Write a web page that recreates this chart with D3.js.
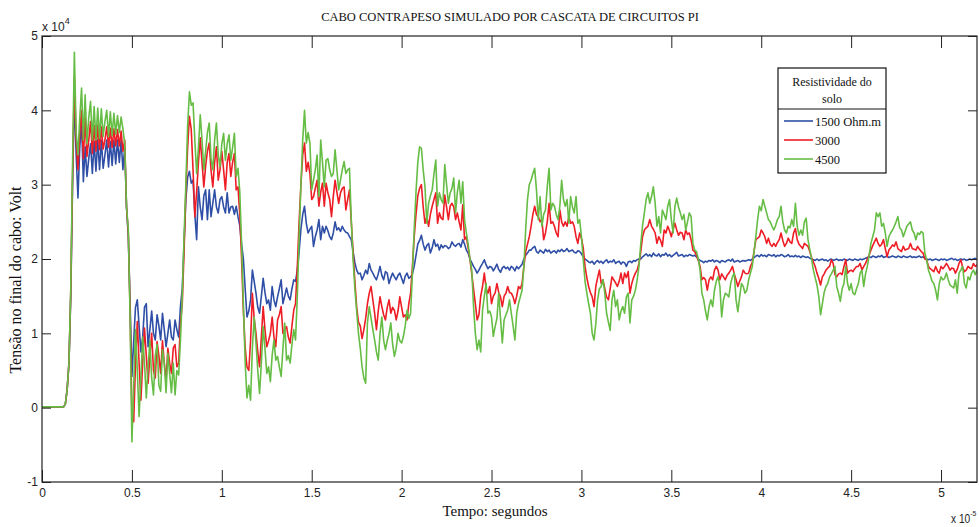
<!DOCTYPE html>
<html>
<head>
<meta charset="utf-8">
<script src="https://cdn.jsdelivr.net/npm/d3@7/dist/d3.min.js"></script>
<style>
  html, body { margin: 0; padding: 0; background: #fff; }
  svg { display: block; }
</style>
</head>
<body>
<svg id="chart" width="979" height="527"></svg>
<script>
// Amostragem uniforme: passo em unidades de 1e-5 s; tensões em unidades de 1e4 V
const passo = 0.01;
const xTicks = [0, 0.5, 1, 1.5, 2, 2.5, 3, 3.5, 4, 4.5, 5];
const yTicks = [-1, 0, 1, 2, 3, 4, 5];
const resistividades = ["1500 Ohm.m", "3000", "4500"];
const cores = ["#2f4fa6", "#ee1d25", "#66bd45"];

// Tensão no final do cabo, resistividade 1500 Ohm.m
const v1500 = [
  0.01,0.01,0.01,0.01,0.01,0.01,0.01,0.01,0.01,0.01,0.01,0.01,0.01,
  0.05,0.25,0.6,1.5,3.0,
  4.2,3.4,2.82,3.5,3.83,3.04,3.51,3.11,3.35,3.55,3.15,3.58,3.18,3.6,3.2,3.6,3.22,3.4,3.6,3.24,3.58,3.26,3.6,3.28,3.6,3.3,3.6,3.2,3.5,
  2.7,2.3,1.4,
  0.42,0.9,1.35,1.45,1.1,0.75,0.95,1.35,1.4,0.82,1.05,1.3,1.0,0.91,1.25,1.1,0.91,1.27,1.05,0.82,1.0,1.18,0.95,0.91,1.18,1.05,0.95,1.36,
  1.6,2.2,2.8,3.1,
  3.18,3.02,3.06,2.6,2.26,2.97,2.7,2.53,2.85,2.93,2.53,2.93,2.57,2.75,2.93,2.7,2.62,2.8,2.84,2.7,2.62,2.89,2.62,2.7,2.71,2.6,2.71,2.57,
  2.45,2.2,2.0,1.6,
  1.22,1.3,1.45,1.85,1.7,1.54,1.35,1.27,1.5,1.74,1.55,1.4,1.45,1.31,1.63,1.45,1.36,1.49,1.6,1.72,1.4,1.5,1.61,1.5,1.45,1.6,1.72,1.7,
  1.85,2.1,2.4,2.6,
  2.71,2.48,2.35,2.4,2.44,2.17,2.3,2.39,2.53,2.26,2.44,2.35,2.44,2.38,2.3,2.26,2.35,2.5,2.39,2.42,2.37,2.44,2.39,2.36,2.35,2.3,2.26,
  2.1,1.95,1.85,1.8,1.81,
  1.72,1.78,1.85,1.8,1.94,1.85,1.81,1.76,1.72,1.8,1.9,1.78,1.72,1.83,1.81,1.67,1.75,1.81,1.76,1.72,1.78,1.81,1.74,1.67,1.77,1.81,1.74,1.76,
  1.8,1.9,2.05,2.2,2.25,
  2.32,2.2,2.12,2.18,2.21,2.08,2.15,2.26,2.17,2.2,2.12,2.19,2.15,2.18,2.17,2.14,2.16,2.23,2.19,2.17,2.2,2.21,2.16,2.26,2.2,2.12,2.08,2.0,
  1.95,1.9,1.86,1.81,1.85,1.9,1.94,1.99,1.92,1.87,1.9,1.89,1.84,1.88,1.93,1.86,1.82,1.88,1.9,1.87,1.89,1.85,1.9,1.88,1.84,1.9,1.87,1.9,1.93,
  2.0,2.05,2.08,2.12,
  2.12,2.15,2.17,2.1,2.08,2.12,2.1,2.08,2.13,2.1,2.12,2.08,2.1,2.11,2.08,2.12,2.1,2.13,2.1,2.11,2.14,2.1,2.11,2.12,2.09,2.08,2.11,2.1,2.07,2.03,2.0,
  1.98,1.96,1.95,1.97,1.93,1.96,1.98,1.95,1.97,1.94,1.97,1.99,1.95,1.97,1.96,1.99,1.94,1.96,1.97,1.93,1.96,1.95,1.9,1.96,1.97,1.95,1.98,1.97,1.99,2.0,
  2.0,2.03,2.05,2.07,2.04,2.06,2.03,2.08,2.05,2.04,2.07,2.03,2.06,2.05,2.08,2.04,2.06,2.03,2.05,2.07,2.09,2.04,2.05,2.06,2.03,2.05,2.04,2.06,2.05,2.04,2.05,
  2.03,2.0,1.98,1.97,1.95,1.97,1.96,1.98,1.97,1.99,1.96,1.98,1.97,1.95,1.98,1.97,1.96,1.98,1.99,1.97,2.0,1.96,1.97,1.98,1.96,1.97,1.98,1.97,1.98,1.99,1.98,2.0,
  2.02,2.04,2.05,2.03,2.06,2.04,2.05,2.03,2.06,2.05,2.04,2.06,2.03,2.05,2.04,2.06,2.05,2.03,2.04,2.06,2.03,2.04,2.03,2.05,2.03,2.04,2.02,2.04,2.03,2.02,2.03,2.01,
  2.0,1.99,1.98,2.0,1.98,1.99,2.0,1.98,1.99,1.97,1.99,2.0,1.98,1.99,2.0,1.98,1.99,1.98,2.0,1.99,1.98,2.0,1.99,1.98,2.0,1.99,1.98,2.0,1.99,2.0,2.01,2.02,
  2.03,2.02,2.04,2.03,2.02,2.04,2.03,2.05,2.02,2.03,2.04,2.02,2.03,2.04,2.03,2.02,2.04,2.03,2.02,2.04,2.03,2.02,2.03,2.04,2.02,2.03,2.02,2.03,2.04,2.02,2.03,2.01,
  2.0,1.99,2.0,1.98,1.99,2.0,1.99,1.98,2.0,1.99,2.0,1.98,1.99,2.0,2.01,1.99,2.0,1.98,1.99,2.0,1.99,2.0,1.98,1.99,2.0,1.99,2.0,2.01,1.99
];

// Tensão no final do cabo, resistividade 3000 Ohm.m
const v3000 = [
  0.01,0.01,0.01,0.01,0.01,0.01,0.01,0.01,0.01,0.01,0.01,0.01,0.01,
  0.05,0.25,0.6,1.55,3.1,
  4.45,3.6,3.2,3.7,4.0,3.35,3.9,3.38,3.6,3.85,3.42,3.8,3.45,3.8,3.47,3.78,3.48,3.6,3.78,3.5,3.76,3.5,3.75,3.52,3.74,3.52,3.72,3.45,3.6,
  2.7,2.35,1.3,
  -0.1,-0.19,0.6,1.16,0.6,0.1,0.6,1.07,0.7,0.33,0.7,1.0,0.5,0.4,0.89,0.7,0.46,0.9,0.6,0.37,0.8,0.6,0.46,0.8,0.85,0.55,0.6,1.13,
  1.4,2.1,2.9,3.5,
  3.92,3.74,3.2,2.57,2.9,3.3,3.63,3.3,2.97,3.25,3.45,3.56,3.2,2.97,3.3,3.51,3.06,3.2,3.45,3.2,2.93,3.3,3.42,3.11,3.3,3.42,2.93,2.97,
  2.6,2.0,1.3,0.8,
  0.55,0.5,0.9,1.54,1.2,1.0,0.75,0.55,0.95,1.36,1.05,0.82,0.9,1.0,1.22,0.95,0.82,1.18,1.25,1.36,1.0,1.05,1.09,0.95,0.87,1.1,1.31,1.4,
  1.9,2.5,3.0,3.4,
  3.56,3.18,3.3,3.15,2.8,2.84,2.95,3.06,2.71,2.9,3.02,2.71,3.02,2.89,2.8,2.57,2.84,3.06,2.9,2.75,2.89,2.95,2.97,2.66,2.8,2.93,2.5,
  2.1,1.7,1.35,1.15,1.1,
  0.93,1.05,1.2,1.4,1.54,1.63,1.45,1.27,1.05,1.3,1.49,1.36,1.25,1.18,1.35,1.45,1.27,1.35,1.31,1.18,1.3,1.49,1.35,1.22,1.25,1.18,1.4,1.54,
  1.9,2.3,2.6,2.85,2.95,
  3.0,2.7,2.48,2.57,2.44,2.6,2.71,2.8,2.89,2.48,2.62,2.55,2.53,2.86,2.7,2.53,2.71,2.75,2.7,2.53,2.62,2.5,2.39,2.73,2.26,2.3,2.15,2.0,
  1.8,1.6,1.4,1.18,1.25,1.5,1.63,1.81,1.6,1.54,1.63,1.4,1.5,1.54,1.67,1.55,1.49,1.36,1.5,1.54,1.63,1.55,1.54,1.49,1.4,1.5,1.63,1.6,1.67,
  1.9,2.1,2.2,2.3,
  2.44,2.6,2.71,2.6,2.57,2.5,2.53,2.26,2.35,2.5,2.75,2.48,2.5,2.44,2.35,2.3,2.66,2.5,2.44,2.5,2.44,2.57,2.48,2.5,2.44,2.3,2.21,2.35,2.28,2.15,1.9,
  1.75,1.63,1.55,1.49,1.36,1.63,1.75,1.85,1.67,1.72,1.6,1.49,1.45,1.6,1.76,1.72,1.68,1.63,1.7,1.81,1.67,1.81,1.75,1.83,1.54,1.67,1.75,1.81,1.85,1.94,
  2.1,2.3,2.39,2.42,2.44,2.53,2.44,2.4,2.35,2.21,2.3,2.25,2.17,2.39,2.35,2.44,2.38,2.3,2.4,2.48,2.39,2.32,2.36,2.35,2.26,2.39,2.33,2.35,2.26,2.12,2.1,
  2.05,1.98,1.9,1.72,1.75,1.72,1.58,1.72,1.76,1.72,1.85,1.9,1.85,1.72,1.8,1.76,1.72,1.78,1.81,1.85,1.9,1.8,1.72,1.63,1.7,1.76,1.85,1.81,1.8,1.81,1.9,1.95,
  2.1,2.26,2.28,2.3,2.39,2.35,2.3,2.21,2.28,2.2,2.17,2.21,2.17,2.22,2.26,2.35,2.25,2.17,2.21,2.28,2.23,2.21,2.35,2.41,2.26,2.2,2.17,2.14,2.21,2.19,2.17,2.1,
  2.02,1.96,1.9,1.81,1.74,1.65,1.76,1.8,1.85,1.88,1.9,1.99,1.94,1.79,1.76,1.8,1.81,1.79,1.9,1.99,1.81,1.84,1.85,1.83,1.87,1.9,1.9,1.94,1.85,1.9,1.94,2.0,
  2.05,2.12,2.18,2.23,2.28,2.21,2.17,2.2,2.26,2.14,2.03,2.12,2.15,2.19,2.17,2.23,2.14,2.12,2.1,2.17,2.12,2.13,2.14,2.21,2.14,2.13,2.12,2.17,2.13,2.1,2.08,2.0,
  1.99,1.9,1.87,1.85,1.83,1.9,1.84,1.81,1.9,1.87,1.9,1.94,1.9,1.85,1.88,1.87,1.81,1.86,1.94,1.99,1.89,1.83,1.85,1.9,1.88,1.87,1.94,1.9,1.92
];

// Tensão no final do cabo, resistividade 4500 Ohm.m
const v4500 = [
  0.01,0.01,0.01,0.01,0.01,0.01,0.01,0.01,0.01,0.01,0.01,0.01,0.01,
  0.05,0.25,0.6,1.6,3.3,
  4.78,3.7,3.4,3.9,4.3,3.6,4.21,3.55,3.9,4.12,3.6,4.05,3.6,4.03,3.62,4.02,3.65,3.85,4.0,3.65,3.98,3.66,3.96,3.68,3.93,3.7,3.91,3.75,3.55,
  2.7,2.4,1.2,
  -0.46,0.3,1.05,0.5,-0.12,0.4,0.95,0.6,0.13,0.55,0.9,0.4,0.17,0.7,0.85,0.3,0.22,0.78,0.6,0.2,0.73,0.45,0.2,0.6,0.17,0.5,0.44,0.91,
  1.5,2.3,3.0,3.8,
  4.25,4.07,4.1,3.6,3.15,3.5,3.94,3.6,3.2,3.45,3.7,3.83,3.35,3.2,3.6,3.83,3.4,3.24,3.55,3.69,3.33,3.55,3.67,3.33,3.5,3.69,3.11,3.22,
  2.9,2.2,1.4,0.6,
  0.13,0.3,0.1,0.8,1.22,0.87,0.5,0.19,0.6,1.09,0.8,0.46,0.55,0.35,0.7,0.91,0.64,0.69,0.55,0.42,0.8,1.14,0.64,0.7,0.6,0.85,1.05,0.91,
  1.5,2.3,3.0,3.6,
  4.0,3.56,3.7,3.56,2.93,3.06,3.2,3.4,2.84,3.6,3.3,2.97,3.33,3.35,3.2,3.11,3.15,3.47,3.2,2.93,3.06,3.2,3.31,3.15,3.2,3.22,2.53,
  2.0,1.6,1.3,1.0,0.8,
  0.55,0.4,0.33,1.14,1.36,1.2,1.05,0.91,0.75,0.64,1.0,1.22,0.91,0.78,0.9,1.0,1.14,0.85,0.69,0.8,1.0,0.9,0.87,0.96,1.1,1.31,1.2,1.27,
  1.8,2.4,2.9,3.3,3.51,
  3.49,3.2,2.97,2.48,2.75,2.85,2.93,3.15,3.33,2.71,2.89,2.8,2.75,3.27,3.0,2.75,2.89,2.95,3.09,2.62,2.9,3.06,2.75,3.04,2.53,2.35,2.2,2.0,
  1.85,1.36,1.0,0.78,0.91,0.75,1.31,1.5,1.67,1.27,1.3,1.22,0.96,1.09,1.2,1.54,1.2,0.87,1.18,1.25,1.31,1.45,1.27,1.1,0.91,1.27,1.4,1.49,1.58,
  1.9,2.4,2.8,3.0,
  3.06,3.15,3.22,2.93,2.53,2.84,2.44,2.6,2.66,2.97,3.22,2.66,2.75,2.71,2.6,2.53,2.71,3.06,2.8,2.71,2.8,2.48,2.84,2.7,2.62,2.84,2.48,2.53,2.3,2.0,1.7,
  1.54,1.4,1.27,1.0,0.91,1.13,1.45,1.6,1.63,1.72,1.54,1.27,1.15,1.04,1.45,1.58,1.36,1.45,1.18,1.3,1.36,1.27,1.49,1.54,1.14,1.45,1.5,1.58,1.72,1.9,
  2.2,2.45,2.62,2.8,2.89,2.75,2.84,2.97,2.75,2.44,2.57,2.35,2.66,2.6,2.53,2.71,2.8,2.53,2.35,2.71,2.82,2.7,2.62,2.53,2.6,2.39,2.5,2.62,2.57,2.21,2.12,
  2.1,2.0,1.85,1.54,1.45,1.3,1.18,1.36,1.45,1.36,1.58,1.7,1.76,1.63,1.22,1.45,1.54,1.52,1.49,1.67,1.76,1.81,1.45,1.29,1.49,1.67,1.63,1.54,1.58,1.72,1.81,1.9,
  2.1,2.3,2.53,2.71,2.65,2.8,2.71,2.62,2.53,2.5,2.44,2.39,2.45,2.53,2.57,2.71,2.5,2.39,2.35,2.44,2.42,2.53,2.44,2.75,2.44,2.32,2.39,2.32,2.5,2.55,2.26,2.13,
  2.0,1.85,1.75,1.65,1.5,1.25,1.4,1.55,1.63,1.67,1.76,1.8,1.85,1.9,1.63,1.54,1.43,1.6,1.67,1.9,1.67,1.58,1.67,1.54,1.52,1.6,1.67,1.81,1.85,1.63,1.8,1.9,
  2.05,2.21,2.3,2.39,2.62,2.57,2.62,2.44,2.48,2.35,2.17,2.3,2.35,2.39,2.44,2.5,2.57,2.42,2.39,2.3,2.37,2.44,2.47,2.5,2.39,2.35,2.26,2.35,2.33,2.37,2.35,2.08,
  1.99,1.85,1.78,1.7,1.67,1.58,1.45,1.67,1.76,1.72,1.74,1.81,1.72,1.65,1.63,1.61,1.72,1.54,1.81,1.85,1.9,1.67,1.61,1.76,1.72,1.81,1.85,1.79,1.85
];

const series = [v1500, v3000, v4500];

const W = 979, H = 527;
const margin = { left: 42, right: 2, top: 36, bottom: 45 };
const x = d3.scaleLinear().domain([0, 5.2]).range([margin.left, W - margin.right]);
const y = d3.scaleLinear().domain([-1, 5]).range([H - margin.bottom, margin.top]);

const svg = d3.select("#chart");
svg.append("rect").attr("width", W).attr("height", H).attr("fill", "#fff");

const sans = "'Liberation Sans', Arial, Helvetica, sans-serif";
const serif = "'Liberation Serif', 'Times New Roman', Times, serif";

svg.append("defs").append("clipPath").attr("id", "area")
  .append("rect")
  .attr("x", x(0)).attr("y", y(5))
  .attr("width", x(5.2) - x(0)).attr("height", y(-1) - y(5));

// curvas
const linha = d3.line()
  .x((d, i) => x(i * passo))
  .y(d => y(d));

const g = svg.append("g").attr("clip-path", "url(#area)");
series.forEach((s, k) => {
  g.append("path")
    .datum(s)
    .attr("d", linha)
    .attr("fill", "none")
    .attr("stroke", cores[k])
    .attr("stroke-width", 1.6)
    .attr("stroke-linejoin", "round");
});

// eixos (marcas internas, como numa caixa)
function estilo(sel) {
  sel.select(".domain").remove();
  sel.selectAll(".tick line").attr("stroke", "#222").attr("stroke-width", 1);
  sel.selectAll(".tick text").attr("fill", "#222")
    .style("font-family", sans).style("font-size", "12px");
}

svg.append("g")
  .attr("transform", `translate(0,${y(-1)})`)
  .call(d3.axisBottom(x).tickValues(xTicks).tickSizeInner(-12).tickSizeOuter(0).tickPadding(6)
    .tickFormat(d => String(d)))
  .call(estilo);

svg.append("g")
  .attr("transform", `translate(0,${y(5)})`)
  .call(d3.axisTop(x).tickValues(xTicks).tickSizeInner(-12).tickSizeOuter(0).tickFormat(""))
  .call(estilo);

svg.append("g")
  .attr("transform", `translate(${x(0)},0)`)
  .call(d3.axisLeft(y).tickValues(yTicks).tickSizeInner(-9).tickSizeOuter(0).tickPadding(4)
    .tickFormat(d => String(d)))
  .call(estilo);

svg.append("g")
  .attr("transform", `translate(${x(5.2)},0)`)
  .call(d3.axisRight(y).tickValues(yTicks).tickSizeInner(-9).tickSizeOuter(0).tickFormat(""))
  .call(estilo);

// moldura
svg.append("rect")
  .attr("x", x(0)).attr("y", y(5))
  .attr("width", x(5.2) - x(0)).attr("height", y(-1) - y(5))
  .attr("fill", "none").attr("stroke", "#222").attr("stroke-width", 1.2);

// multiplicadores de escala
const m1 = svg.append("text").attr("x", x(0)).attr("y", y(5) - 5)
  .style("font-family", sans).style("font-size", "12px").attr("fill", "#222");
m1.append("tspan").text("x 10");
m1.append("tspan").attr("dy", -7).style("font-size", "9px").text("4");

const m2 = svg.append("text").attr("transform", "translate(951,523) scale(0.85,1)")
  .style("font-family", sans).style("font-size", "12px").attr("fill", "#222");
m2.append("tspan").text("x 10");
m2.append("tspan").attr("dy", -7).style("font-size", "8px").text("-5");

// títulos
svg.append("text")
  .attr("x", 510).attr("y", 21)
  .attr("text-anchor", "middle")
  .style("font-family", serif).style("font-size", "12.5px").attr("fill", "#111")
  .text("CABO CONTRAPESO SIMULADO POR CASCATA DE CIRCUITOS PI");

svg.append("text")
  .attr("x", 495).attr("y", 516)
  .attr("text-anchor", "middle")
  .style("font-family", serif).style("font-size", "15px").attr("fill", "#111")
  .text("Tempo: segundos");

svg.append("text")
  .attr("transform", "translate(21,280) rotate(-90)")
  .attr("text-anchor", "middle")
  .style("font-family", serif).style("font-size", "16px").attr("fill", "#111")
  .text("Tensão no final do cabo: Volt");

// legenda
const lg = svg.append("g").attr("transform", "translate(778,68)");
lg.append("rect").attr("width", 108).attr("height", 105)
  .attr("fill", "#fff").attr("stroke", "#111").attr("stroke-width", 1.2);
lg.append("line").attr("x1", 0).attr("x2", 108).attr("y1", 41).attr("y2", 41)
  .attr("stroke", "#111").attr("stroke-width", 1.2);
lg.append("text").attr("x", 54).attr("y", 18).attr("text-anchor", "middle")
  .style("font-family", serif).style("font-size", "12px").attr("fill", "#111")
  .text("Resistividade do");
lg.append("text").attr("x", 54).attr("y", 35).attr("text-anchor", "middle")
  .style("font-family", serif).style("font-size", "12px").attr("fill", "#111")
  .text("solo");
resistividades.forEach((r, k) => {
  const yy = 53 + k * 19;
  lg.append("line").attr("x1", 6).attr("x2", 35).attr("y1", yy).attr("y2", yy)
    .attr("stroke", cores[k]).attr("stroke-width", 1.6);
  lg.append("text").attr("x", 37).attr("y", yy + 4.5)
    .style("font-family", serif).style("font-size", "12.5px").attr("fill", "#111")
    .text(r);
});

series.forEach((s, k) => {
  if (s.length !== 521) throw new Error("serie " + k + " tem " + s.length + " pontos");
});
</script>
</body>
</html>
